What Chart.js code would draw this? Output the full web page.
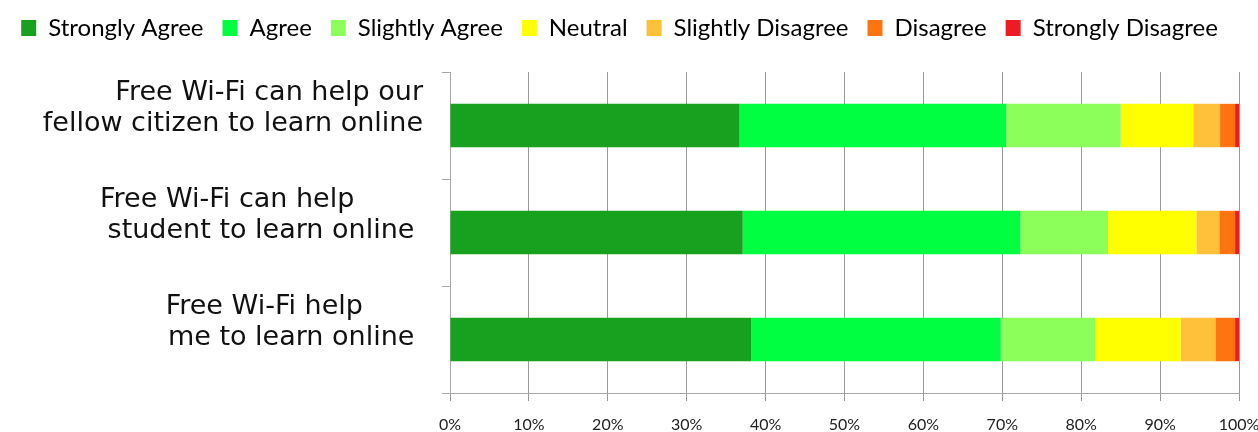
<!DOCTYPE html>
<html>
<head>
<meta charset="utf-8">
<script src="https://cdn.jsdelivr.net/npm/chart.js@4.4.1/dist/chart.umd.min.js"></script>
<style>
  html, body { margin: 0; padding: 0; background: #fff; }
  #wrap { width: 1258px; height: 432px; position: relative; }
</style>
</head>
<body>
<div id="wrap"><canvas id="c"></canvas></div>
<script>
const categories = [
  ["Free Wi-Fi can help our", "fellow citizen to learn online"],
  ["Free Wi-Fi can help        ", "student to learn online "],
  ["Free Wi-Fi help       ", "me to learn online "]
];
const seriesNames = ["Strongly Agree", "Agree", "Slightly Agree", "Neutral", "Slightly Disagree", "Disagree", "Strongly Disagree"];
const stronglyAgree    = [36.7, 37.1, 38.2];
const agree            = [33.8, 35.2, 31.6];
const slightlyAgree    = [14.5, 11.1, 12.0];
const neutral          = [9.2, 11.2, 10.8];
const slightlyDisagree = [3.4, 2.9, 4.4];
const disagree         = [1.9, 2.0, 2.5];
const stronglyDisagree = [0.5, 0.5, 0.5];
const xTicks = [0, 10, 20, 30, 40, 50, 60, 70, 80, 90, 100];

const colors = ["#17a11f", "#00ff40", "#8cff5a", "#ffff00", "#ffc03a", "#ff7410", "#ed1c24"];
const values = [stronglyAgree, agree, slightlyAgree, neutral, slightlyDisagree, disagree, stronglyDisagree];

const datasets = seriesNames.map((n, i) => ({
  label: n,
  data: values[i],
  backgroundColor: colors[i],
  borderWidth: 0,
  barPercentage: 0.405,
  categoryPercentage: 1.0
}));

const legendHeightPlugin = {
  id: 'legendHeight',
  beforeInit(chart) {
    const lg = chart.legend;
    if (!lg) return;
    const orig = lg.fit;
    lg.fit = function () {
      orig.call(this);
      this.height = 75;
    };
  }
};

new Chart(document.getElementById('c'), {
  type: 'bar',
  data: { labels: categories, datasets },
  plugins: [legendHeightPlugin],
  options: {
    indexAxis: 'y',
    responsive: true,
    maintainAspectRatio: false,
    animation: false,
    layout: { padding: { top: -3, left: 0, right: 19, bottom: 0 } },
    plugins: {
      tooltip: { enabled: false },
      legend: {
        position: 'top',
        align: 'center',
        labels: {
          boxWidth: 15,
          boxHeight: 16,
          padding: 19,
          color: '#000',
          font: { family: 'Lato, sans-serif', size: 24 }
        }
      }
    },
    scales: {
      x: {
        stacked: true,
        min: 0,
        max: 100,
        afterBuildTicks: (s) => { s.ticks = xTicks.map(v => ({ value: v })); },
        afterFit: (s) => { s.paddingLeft = 0; s.paddingRight = 0; s.height = 39; },
        ticks: {
          callback: (v) => v + '%',
          color: '#222',
          font: { family: 'Lato, sans-serif', size: 16 },
          padding: 14,
          maxRotation: 0
        },
        grid: { color: '#999', lineWidth: 1, tickLength: 8, drawTicks: true },
        border: { color: '#a6a6a6', width: 1 }
      },
      y: {
        stacked: true,
        afterFit: (s) => { s.width = 450; s.paddingTop = 0; s.paddingBottom = 0; },
        ticks: {
          color: '#111',
          font: { family: '"DejaVu Sans", sans-serif', size: 27, lineHeight: 1.15 },
          padding: 19,
          labelOffset: -17
        },
        grid: { display: true, drawOnChartArea: false, color: '#a6a6a6', tickLength: 8, offset: true },
        border: { color: '#a6a6a6', width: 1 }
      }
    }
  }
});
</script>
</body>
</html>
